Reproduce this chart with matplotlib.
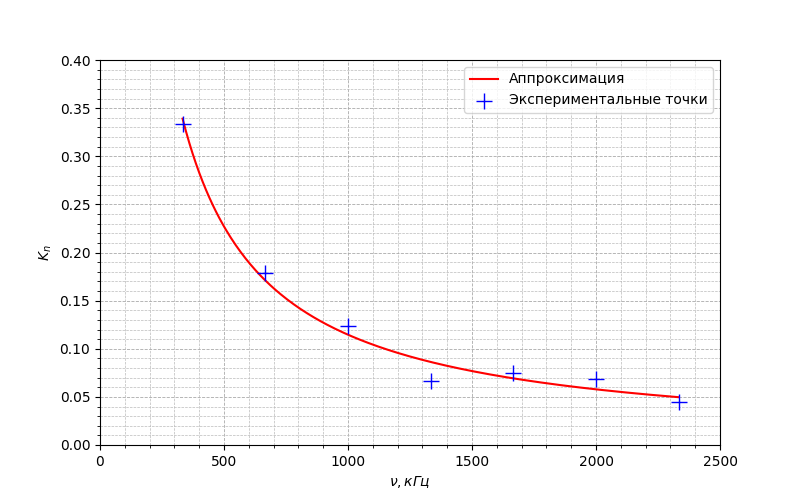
import numpy as np
import matplotlib
matplotlib.use('Agg')
import matplotlib.pyplot as plt

# experimental points
nu = np.array([333, 667, 1000, 1333, 1667, 2000, 2333])
K = np.array([0.334, 0.179, 0.124, 0.066, 0.075, 0.069, 0.045])

# power-law approximation fitted to the points
p, c = np.polyfit(np.log(nu), np.log(K), 1)
nu_fit = np.linspace(nu.min(), nu.max(), 300)
K_fit = np.exp(c) * nu_fit ** p

fig, ax = plt.subplots(figsize=(8, 5), dpi=100)
ax.plot(nu_fit, K_fit, color='red', label='Аппроксимация')
ax.scatter(nu, K, marker='+', s=120, color='blue', linewidths=1, label='Экспериментальные точки', zorder=3)
ax.set_xlim(0, 2500)
ax.set_ylim(0, 0.4)
ax.set_xlabel(r'$\nu, кГц$')
ax.set_ylabel(r'$K_n$')
ax.minorticks_on()
ax.grid(which='major', linestyle='--', linewidth=0.6, color='#aaaaaa')
ax.grid(which='minor', linestyle='--', linewidth=0.5, color='#bbbbbb')
ax.legend(loc='upper right')
fig.savefig('out.png')
